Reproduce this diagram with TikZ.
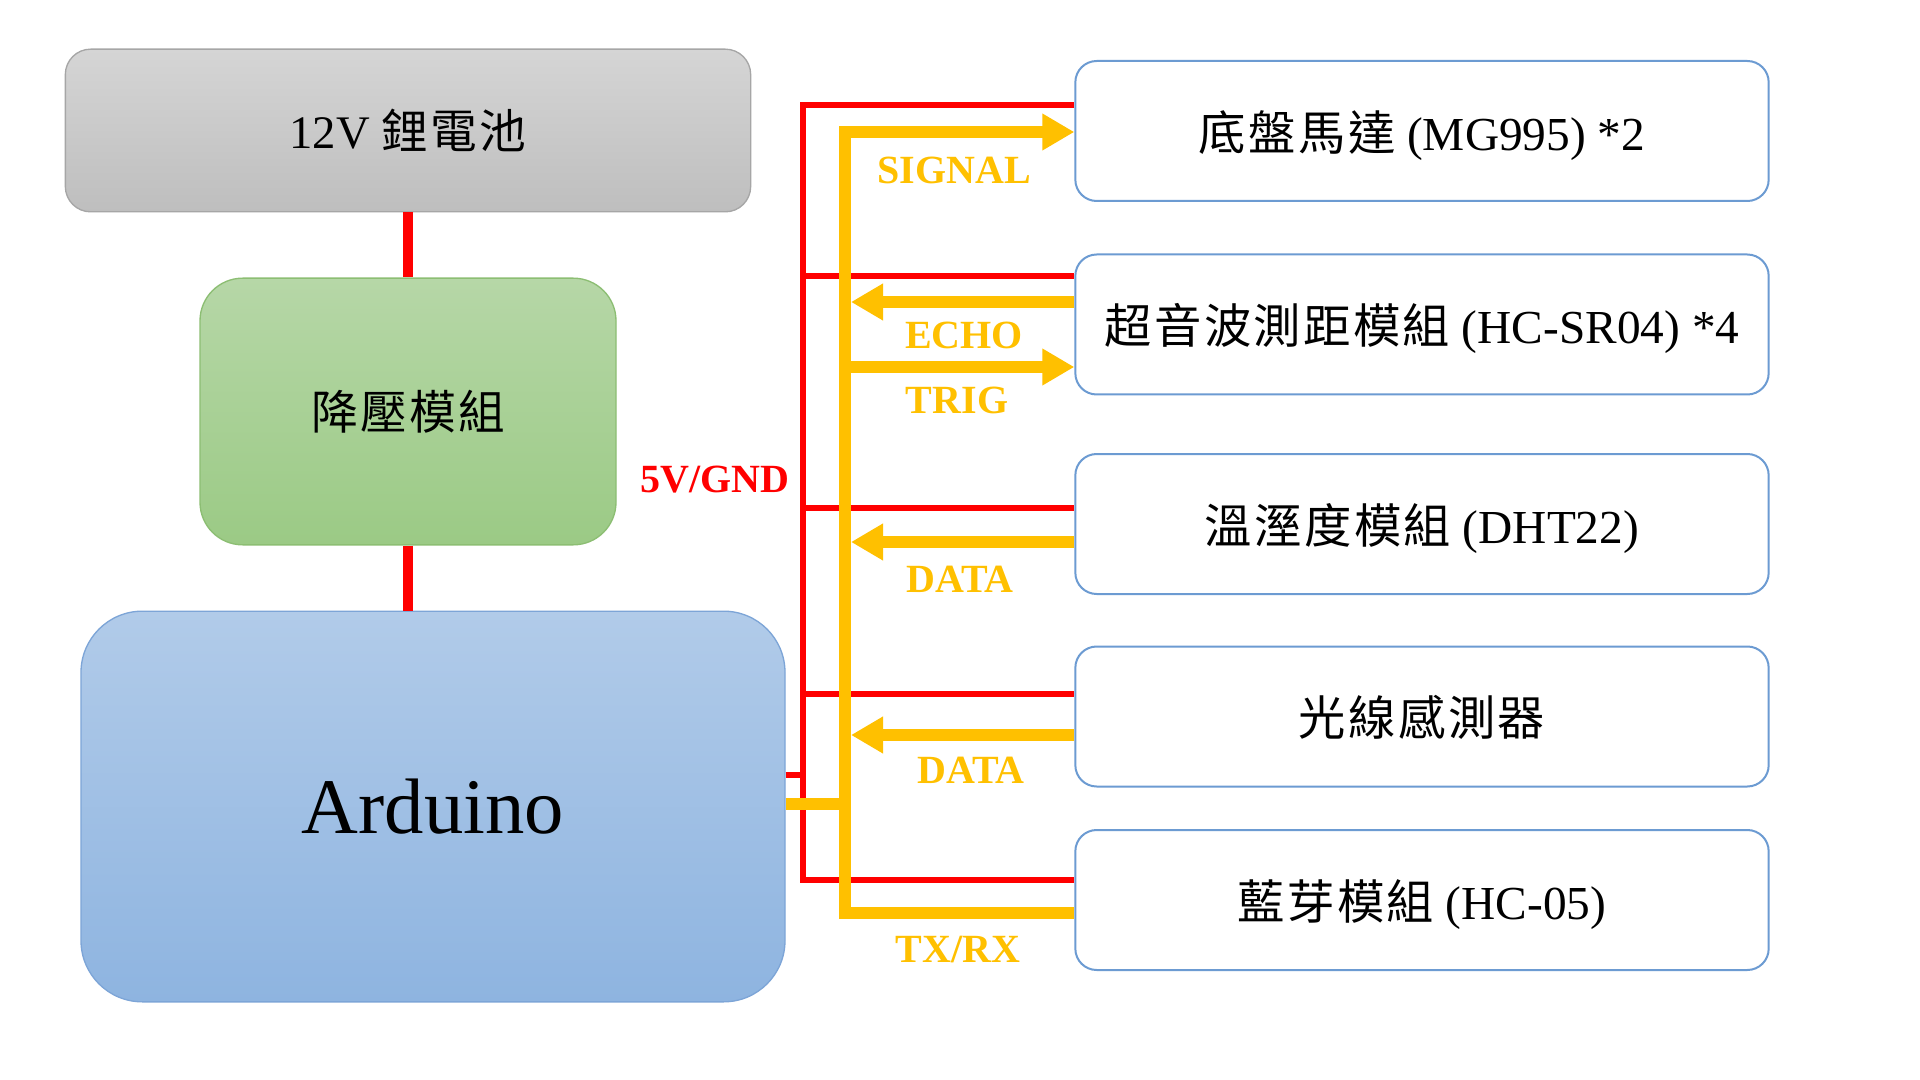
\documentclass[tikz,border=0pt]{standalone}
\usepackage{fontspec}
\setmainfont{Liberation Serif}
\newfontfamily\cjk[LetterSpace=5]{Noto Sans CJK TC}
\usetikzlibrary{arrows.meta}
\definecolor{pwrred}{HTML}{FF0000}
\definecolor{sigor}{HTML}{FFC000}
\definecolor{modborder}{HTML}{6C9BD2}
\definecolor{batborder}{HTML}{A6A6A6}
\definecolor{battop}{HTML}{D5D5D5}
\definecolor{batbot}{HTML}{BEBEBE}
\definecolor{regborder}{HTML}{8CBE73}
\definecolor{regtop}{HTML}{B6D7A7}
\definecolor{regbot}{HTML}{9BCA85}
\definecolor{ardborder}{HTML}{7DA5D7}
\definecolor{ardtop}{HTML}{B1CBE9}
\definecolor{ardbot}{HTML}{8EB4E0}
\tikzset{
  blk/.style={rounded corners=#1, inner sep=0pt, line width=1pt, align=center},
  batbox/.style={blk=19pt, draw=batborder, top color=battop, bottom color=batbot, minimum width=514pt, minimum height=122pt, font=\fontsize{35pt}{42pt}\selectfont},
  regbox/.style={blk=32pt, draw=regborder, top color=regtop, bottom color=regbot, minimum width=312pt, minimum height=200pt, font=\fontsize{35pt}{42pt}\selectfont, text height=32pt, text depth=5pt},
  ardbox/.style={blk=46pt, draw=ardborder, top color=ardtop, bottom color=ardbot, minimum width=528pt, minimum height=293pt, font=\fontsize{59pt}{70pt}\selectfont},
  modbox/.style={blk=16pt, draw=modborder, line width=1.5pt, fill=white, minimum width=520pt, minimum height=105pt, font=\fontsize{35.5pt}{42pt}\selectfont, text height=33pt, text depth=4pt},
  pwr/.style={draw=pwrred, line width=4pt, line join=miter},
  pwrthick/.style={draw=pwrred, line width=8pt},
  sig/.style={draw=sigor, line width=9pt, line join=miter},
  sigtip/.style={-{Triangle[length=24pt,width=26pt]}},
  siglbl/.style={text=sigor, font=\fontsize{30pt}{36pt}\selectfont\bfseries, inner sep=0pt},
  pwrlbl/.style={text=pwrred, font=\fontsize{30pt}{36pt}\selectfont\bfseries, inner sep=0pt}
}
\begin{document}
\begin{tikzpicture}[x=0.75pt,y=-0.75pt]
\fill[white] (0,0) rectangle (1920,1080);
\useasboundingbox (0,0) rectangle (1920,1080);

% left column
\node[batbox] (bat) at (408,130.5) {12V {\cjk 鋰電池}};
\node[regbox] (reg) at (408,411.5) {{\cjk 降壓模組}};
\node[ardbox] (ard) at (433,806.5) {Arduino};

% right column
\node[modbox] (m1) at (1422,131) {{\cjk 底盤馬達} (MG995) *2};
\node[modbox] (m2) at (1422,324.5) {{\cjk 超音波測距模組} (HC-SR04) *4};
\node[modbox] (m3) at (1422,524) {{\cjk 溫溼度模組} (DHT22)};
\node[modbox] (m4) at (1422,716.5) {{\cjk 光線感測器}};
\node[modbox] (m5) at (1422,900) {{\cjk 藍芽模組} (HC-05)};

% helper coordinates
\coordinate (rbus) at (803,0);
\coordinate (obus) at (845,0);
\coordinate (obusR) at (851,0);
\coordinate (yr0) at (0,775);
\coordinate (yr1) at (0,105);
\coordinate (yr2) at (0,276);
\coordinate (yr3) at (0,508);
\coordinate (yr4) at (0,694);
\coordinate (yr5) at (0,880);
\coordinate (yo0) at (0,804);
\coordinate (yo1) at (0,132);
\coordinate (yo2) at (0,302);
\coordinate (yo3) at (0,367);
\coordinate (yo4) at (0,542);
\coordinate (yo5) at (0,913);
\coordinate (yo6) at (0,735);

% power chain
\draw[pwrthick] (bat.south) -- (reg.north);
\draw[pwrthick] (reg.south) -- (reg.south |- ard.north);

% red 5V/GND bus
\draw[pwr] (m1.west |- yr1) -| (rbus |- yr5) -- (m5.west |- yr5);
\draw[pwr] (rbus |- yr2) -- (m2.west |- yr2);
\draw[pwr] (rbus |- yr3) -- (m3.west |- yr3);
\draw[pwr] (rbus |- yr4) -- (m4.west |- yr4);
\draw[pwr] (ard.east |- yr0) -- (rbus |- yr0);

% orange signal bus
\draw[sig, sigtip] (m5.west |- yo5) -| (obus |- yo1) -- (m1.west |- yo1);
\draw[sig, sigtip] (m2.west |- yo2) -- (obusR |- yo2);
\draw[sig, sigtip] (obus |- yo3) -- (m2.west |- yo3);
\draw[sig, sigtip] (m3.west |- yo4) -- (obusR |- yo4);
\draw[sig, sigtip] (m4.west |- yo6) -- (obusR |- yo6);
\draw[sig] (ard.east |- yo0) -- (obus |- yo0);

% labels
\node[siglbl] (lsig) at (954,170) {SIGNAL};
\node[siglbl] (lecho) at (964,335) {ECHO};
\node[siglbl] (ltrig) at (957,400) {TRIG};
\node[siglbl] (ld1) at (960,579) {DATA};
\node[siglbl] (ld2) at (971,770) {DATA};
\node[siglbl] (ltx) at (958,950) {TX/RX};
\node[pwrlbl] (lpwr) at (715,480) {5V/GND};
\end{tikzpicture}
\end{document}
